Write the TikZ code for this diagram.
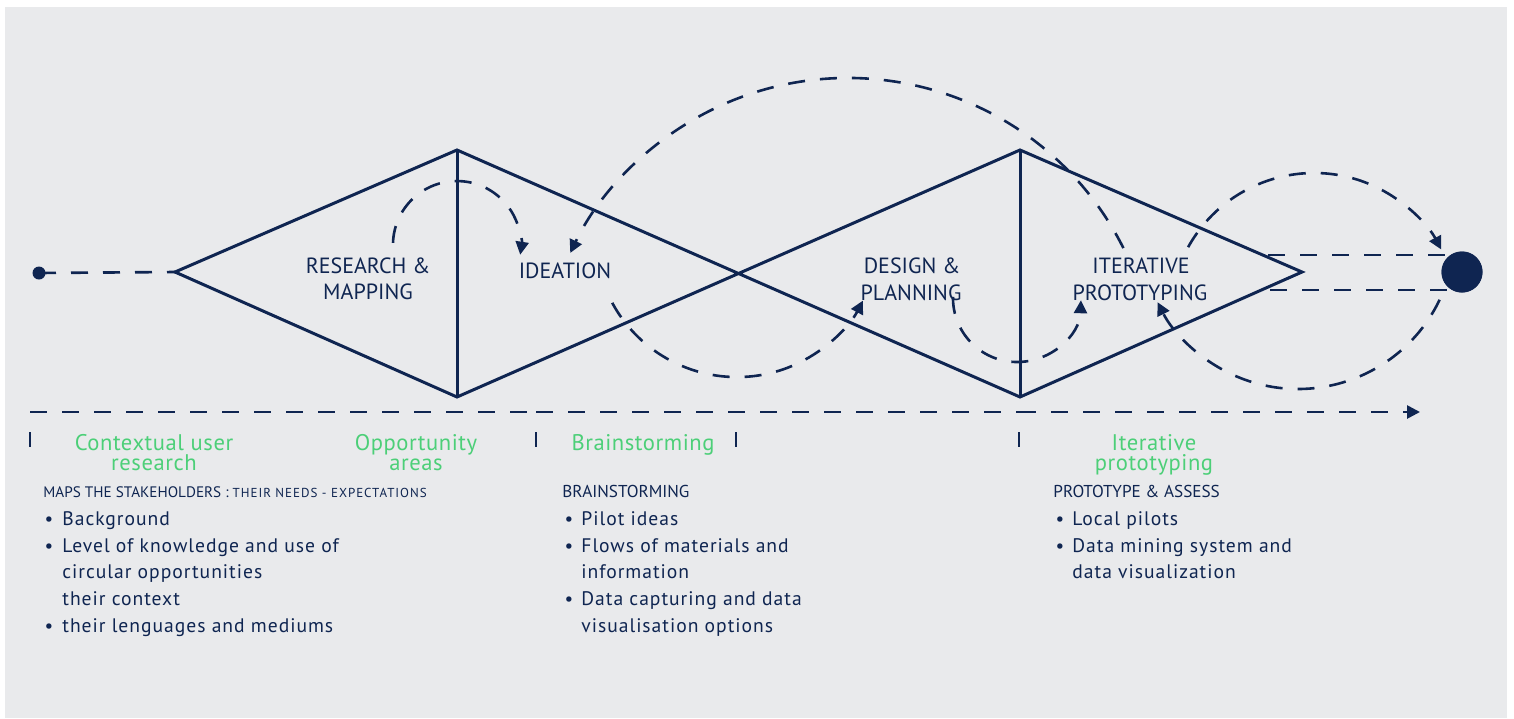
\documentclass[tikz,border=0pt]{standalone}
\usepackage{fontspec}
\setmainfont{PT Sans}
\newfontfamily\bodyfont[LetterSpace=5]{PT Sans}
\newfontfamily\phasefont[LetterSpace=2.5]{PT Sans}
\newfontfamily\notefont[LetterSpace=7.5]{PT Sans}
\usetikzlibrary{arrows.meta}
\definecolor{navy}{HTML}{0F2551}
\definecolor{leaf}{HTML}{4CCF78}
\definecolor{panel}{HTML}{E9EAEC}
\begin{document}
\begin{tikzpicture}[x=0.5pt,y=-0.5pt,
  edge/.style={navy,line width=1.5pt,line join=miter},
  flow/.style={navy,line width=1.3pt,dash pattern=on 8.5pt off 7.5pt},
  tip/.style={-{Triangle[length=6.5pt,width=6.5pt]}},
  tick/.style={navy,line width=1.3pt},
  stage/.style={navy,font=\fontsize{11pt}{13pt}\selectfont,anchor=base,inner sep=0pt},
  phase/.style={leaf,font=\phasefont\fontsize{11.3pt}{13pt}\selectfont,anchor=base,inner sep=0pt},
  head/.style={navy,font=\fontsize{8.6pt}{10pt}\selectfont,anchor=base west,inner sep=0pt},
  item/.style={navy,font=\bodyfont\fontsize{9.8pt}{12pt}\selectfont,anchor=base west,inner sep=0pt},
  dot/.style={navy,font=\fontsize{9.6pt}{12pt}\selectfont,anchor=base,inner sep=0pt}
]
\useasboundingbox (0,0) rectangle (1514,718);
\fill[panel] (5,7) rectangle (1507,718);

% double diamond outline
\coordinate (L1) at (175,272);
\coordinate (T1) at (457,150);
\coordinate (B1) at (457,397);
\coordinate (X)  at (739,272);
\coordinate (T2) at (1020,150);
\coordinate (B2) at (1020,397);
\coordinate (R2) at (1302,272);
\draw[edge] (L1) -- (T1) -- (B2) -- (R2) -- (T2) -- (B1) -- cycle;
\draw[edge] (T1) -- (B1);
\draw[edge] (T2) -- (B2);

% start and end points
\node[circle,fill=navy,inner sep=0pt,minimum size=6.5pt] (start) at (39,273) {};
\node[circle,fill=navy,inner sep=0pt,minimum size=20.5pt] (goal) at (1462,272) {};
\draw[flow] (start.center) -- (L1);

\coordinate (h1a) at (1268,255);
\coordinate (h2a) at (1270,290);
\draw[flow] (h1a) -- (goal.center |- h1a);
\draw[flow] (h2a) -- (goal.center |- h2a);
\fill[navy] (goal) circle[radius=41/2];

% feedback loops
\coordinate (a1) at (393,242.8);
\draw[flow,tip] (a1) arc[start angle=-178,end angle=8.7,radius=64];
\coordinate (b1) at (1123.4,248.1);
\draw[flow,tip] (b1) arc[start angle=-26.6,end angle=-154.4,radius=308];
\coordinate (c1) at (612.2,302.8);
\draw[flow,tip] (c1) arc[start angle=151.5,end angle=27.5,radius=142];
\coordinate (d1) at (953,296.9);
\draw[flow,tip] (d1) arc[start angle=181,end angle=2,radius=64];
\coordinate (e1) at (1188.1,247.2);
\draw[flow,tip] (e1) arc[start angle=-151,end angle=-28,radius=144];
\coordinate (f1) at (1439.6,299.8);
\draw[flow,tip] (f1) arc[start angle=25.6,end angle=153.4,radius=157];

% stage names
\node[stage] (s1a) at (368,273) {RESEARCH \&};
\node[stage] (s1b) at (368,299) {MAPPING};
\node[stage] (s2)  at (565,278) {IDEATION};
\node[stage] (s3a) at (912,273) {DESIGN \&};
\node[stage] (s3b) at (911,300) {PLANNING};
\node[stage] (s4a) at (1141,273) {ITERATIVE};
\node[stage] (s4b) at (1140,300) {PROTOTYPING};

% timeline
\coordinate (t0) at (30,412);
\coordinate (t1) at (536,412);
\coordinate (t2) at (1019,412);
\coordinate (t3) at (1420,412);
\draw[flow] (t0) -- (t1);
\draw[flow] (t1) -- (t2);
\draw[flow,tip] (t2) -- (t3);
\foreach \x/\n in {30/k0,536/k1,736/k2,1019/k3}{
  \coordinate (\n a) at (\x,432);
  \coordinate (\n b) at (\x,447);
  \draw[tick] (\n a) -- (\n b);
}

% phase labels
\node[phase] (p1a) at (154,450) {Contextual user};
\node[phase] (p1b) at (154,470) {research};
\node[phase] (p2a) at (416,450) {Opportunity};
\node[phase] (p2b) at (416,470) {areas};
\node[phase] (p3)  at (643,450) {Brainstorming};
\node[phase] (p4a) at (1154,450) {Iterative};
\node[phase] (p4b) at (1154,470) {prototyping};

% first column
\node[head,font=\fontsize{7.6pt}{9pt}\selectfont] (m0) at (43,497) {MAPS THE STAKEHOLDERS : {\notefont\fontsize{6.5pt}{7pt}\selectfont THEIR NEEDS - EXPECTATIONS}};
\node[dot] (md1) at (49,525) {•};
\node[item] (m1) at (62,525) {Background};
\node[dot] (md2) at (49,552) {•};
\node[item] (m2) at (62,552) {Level of knowledge and use of};
\node[item] (m3) at (62,578) {circular opportunities};
\node[item] (m4) at (62,605) {their context};
\node[dot] (md3) at (49,632) {•};
\node[item] (m5) at (62,632) {their lenguages and mediums};

% second column
\node[head] (n0) at (562,497) {BRAINSTORMING};
\node[dot] (nd1) at (569,525) {•};
\node[item] (n1) at (581,525) {Pilot ideas};
\node[dot] (nd2) at (569,552) {•};
\node[item] (n2) at (581,552) {Flows of materials and};
\node[item] (n3) at (581,578) {information};
\node[dot] (nd3) at (569,605) {•};
\node[item] (n4) at (581,605) {Data capturing and data};
\node[item] (n5) at (581,632) {visualisation options};

% third column
\node[head] (q0) at (1053,497) {PROTOTYPE \& ASSESS};
\node[dot] (qd1) at (1060,525) {•};
\node[item] (q1) at (1072,525) {Local pilots};
\node[dot] (qd2) at (1060,552) {•};
\node[item] (q2) at (1072,552) {Data mining system and};
\node[item] (q3) at (1072,578) {data visualization};
\end{tikzpicture}
\end{document}
